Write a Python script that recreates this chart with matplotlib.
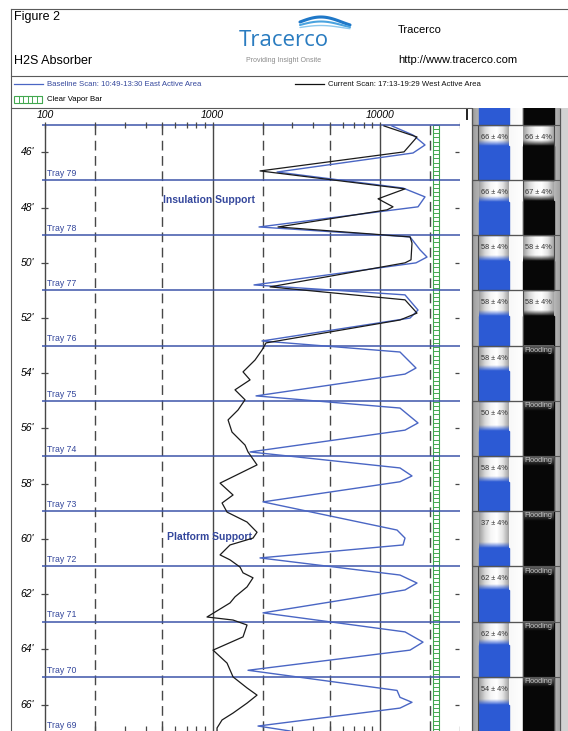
import numpy as np
import matplotlib.pyplot as plt
from matplotlib.patches import Rectangle
from matplotlib.colors import LinearSegmentedColormap, to_rgb

plt.rcParams['font.family'] = ['Liberation Sans', 'DejaVu Sans']

W, H = 568, 731

# baseline scan (blue): depth in ft, count rate
baseline_depth = [45.04, 45.37, 45.73, 46.02, 46.71, 47.29, 47.61, 47.97, 48.70,
                  49.06, 49.53, 49.79, 50.00, 50.80, 51.16, 51.71, 52.00, 52.83,
                  53.23, 53.81, 54.03, 54.82, 55.26, 55.80, 56.06, 56.85, 57.43,
                  57.72, 57.93, 58.66, 59.68, 59.97, 60.22, 60.69, 61.31, 61.60,
                  61.85, 62.68, 63.37, 63.74, 64.03, 64.76, 65.49, 65.74, 65.92,
                  66.13, 66.78, 66.96]
baseline_counts = [11790, 15740, 18560, 15740, 2428, 13720, 18560, 16860, 1895,
                   15110, 17340, 19080, 16400, 1769, 14100, 16860, 15110, 1974,
                   13160, 16400, 14100, 1819, 13160, 16860, 14100, 1675, 13160,
                   15520, 13160, 2002, 12640, 14100, 13720, 1921, 13160, 16630,
                   14100, 2002, 14100, 18060, 15110, 1629, 12640, 13160, 15520,
                   13160, 1869, 2901]

# current scan (black)
current_depth = [45.04, 45.44, 45.98, 46.67, 47.32, 47.68, 47.97, 48.08, 48.70,
                 49.06, 49.28, 49.89, 50.00, 50.87, 51.34, 51.82, 52.07, 52.90,
                 53.16, 53.52, 53.95, 54.24, 54.60, 54.96, 55.33, 55.69, 56.13,
                 56.60, 56.85, 57.32, 57.98, 58.41, 58.70, 59.03, 59.39, 59.76,
                 59.97, 60.22, 60.58, 60.76, 61.02, 61.23, 61.41, 61.74, 62.10,
                 62.32, 62.83, 62.94, 63.12, 63.55, 64.03, 64.50, 65.00, 65.40,
                 65.66, 65.95, 66.31, 66.56, 66.85, 66.96]
current_counts = [10560, 16630, 13910, 1921, 14100, 9730, 11960, 11010, 2460,
                  15110, 15520, 15310, 14100, 2205, 14100, 16630, 13160, 2087,
                  1974, 1794, 1521, 1675, 1362, 1563, 1420, 1238, 1307,
                  1563, 1629, 1844, 1109, 1326, 1140, 1221, 1607, 1844,
                  1745, 1272, 1109, 1272, 1459, 1521, 1745, 1607, 1362,
                  1272, 927, 1326, 1607, 1521, 1007, 1221, 1326, 1607,
                  1844, 1607, 1326, 1140, 1064, 1064]

tray_depths = [45, 47, 49, 51, 53, 55, 57, 59, 61, 63, 65, 67]
tray_names = ['', 'Tray 79', 'Tray 78', 'Tray 77', 'Tray 76', 'Tray 75', 'Tray 74',
              'Tray 73', 'Tray 72', 'Tray 71', 'Tray 70', 'Tray 69']
depth_ticks = [46, 48, 50, 52, 54, 56, 58, 60, 62, 64, 66]
major_x = [100, 1000, 10000]
dashed_x = [200, 500, 2000, 5000, 20000]
minor_x = [300, 400, 600, 700, 800, 900, 3000, 4000, 6000, 7000, 8000, 9000, 30000]
vapor_bar = (20800, 22600)

# liquid level of each tray section (None = flooding)
section_tops = [43, 45, 47, 49, 51, 53, 55, 57, 59, 61, 63, 65]
east_pct = [66, 66, 66, 58, 58, 58, 50, 58, 37, 62, 62, 54]
west_pct = [66, 66, 67, 58, 58, None, None, None, None, None, None, None]

BLUE = '#4a66c4'
TRAY = '#3d55aa'
TEXT_BLUE = '#34479c'
GRID = '#474747'
GREEN = '#43a850'

fig = plt.figure(figsize=(W / 100, H / 100), dpi=100)

# page layer in pixel units: header, legend, frame
bg = fig.add_axes([0, 0, 1, 1])
bg.set_xlim(0, W)
bg.set_ylim(H, 0)
bg.axis('off')
frame = dict(color='#5a5a5a', lw=0.8)
bg.plot([11, W], [9, 9], **frame)
bg.plot([11, W], [76, 76], **frame)
bg.plot([11, 11], [9, H], **frame)
bg.plot([11, 471], [108, 108], **frame)

bg.text(14, 17, 'Figure 2', fontsize=9, va='center')
bg.text(14, 61, 'H2S Absorber', fontsize=9, va='center')
bg.text(398, 30, 'Tracerco', fontsize=8, va='center')
bg.text(398, 60, 'http://www.tracerco.com', fontsize=8, va='center')

# logo with swoosh
bg.text(284, 41, 'Tracerco', fontsize=16, color='#2a7cc0', ha='center',
        va='center', family=['Open Sans', 'DejaVu Sans'])
sx = np.linspace(300, 350, 60)
for k, (off, lw) in enumerate([(0, 2.2), (3.0, 1.5), (5.5, 1.0)]):
    sy = 22 + off - 5 * np.sin((sx - 300) / 50 * np.pi * 1.2) * (1 - 0.3 * k)
    bg.plot(sx, sy, color=['#1f78c8', '#4aa3df', '#8cc8ee'][k], lw=lw,
            solid_capstyle='round')
bg.text(284, 61, 'Providing Insight Onsite', fontsize=5, color='#8a8a8a',
        ha='center', va='center')

# legend row
bg.plot([14, 43], [84, 84], color=BLUE, lw=0.9)
bg.text(47, 84, 'Baseline Scan: 10:49-13:30 East Active Area', color=TEXT_BLUE,
        fontsize=5.6, va='center')
bg.plot([295, 324], [84, 84], color='#111111', lw=0.9)
bg.text(328, 84, 'Current Scan: 17:13-19:29 West Active Area', color='#111111',
        fontsize=5.6, va='center')
bg.add_patch(Rectangle((14, 96), 28, 7, fill=False, ec=GREEN, lw=0.8))
for xr in np.arange(18.5, 42, 4.6):
    bg.plot([xr, xr], [96, 103], color=GREEN, lw=0.7)
bg.text(47, 99.5, 'Clear Vapor Bar', fontsize=5.6, va='center')
bg.plot([467, 467], [110, 119], color='#222222', lw=1.4)

# main scan axes
top_d, bot_d = 44.39, 66.96
ax = fig.add_axes([12 / W, 0, 448 / W, 623 / H])
ax.set_xscale('log')
ax.set_facecolor('none')
for s in ['right', 'bottom', 'left', 'top']:
    ax.spines[s].set_visible(False)
ax.set_xticks([])
ax.set_yticks([])
ax.minorticks_off()
ax.xaxis.set_minor_locator(plt.NullLocator())

for xv in major_x:
    ax.vlines(xv, 45, bot_d, color=GRID, lw=1.0, zorder=1)
for xv in dashed_x:
    ax.vlines(xv, 45, bot_d, color=GRID, lw=1.0, linestyles=(0, (7, 4)), zorder=1)

# vapour bar ladder
ax.vlines(list(vapor_bar), 45, bot_d, color=GREEN, lw=0.8, zorder=1)
ax.hlines(np.arange(45, bot_d, 0.152), vapor_bar[0], vapor_bar[1], color=GREEN,
          lw=0.7, zorder=1)

# tray lines and labels
ax.hlines(tray_depths, 96, 30030, color=TRAY, lw=1.1, zorder=2)
for d, name in zip(tray_depths, tray_names):
    if name:
        ax.text(103, d - 0.08, name, color=TEXT_BLUE, fontsize=6.3,
                va='bottom', ha='left', clip_on=True)

# tick marks along top and bottom
all_x_ticks = major_x + dashed_x[:-1] + minor_x
ax.vlines(all_x_ticks, 44.88, 45.1, color=GRID, lw=0.9, zorder=3)
ax.vlines(minor_x + dashed_x[:-1], 66.78, bot_d, color=GRID, lw=0.9, zorder=3)
for xv in major_x:
    ax.text(xv, 44.64, f'{xv}', fontsize=7.5, style='italic', ha='center',
            va='center')

# depth ticks and labels
ax.hlines(depth_ticks, 95, 104.5, color=GRID, lw=0.9)
ax.hlines(depth_ticks, 28200, 29800, color=GRID, lw=0.9)
for d in depth_ticks:
    ax.text(86, d, f"{d}'", fontsize=7.5, style='italic', ha='right',
            va='center')

ax.text(506, 47.72, 'Insulation Support', color=TEXT_BLUE, fontsize=7.5,
        fontweight='bold', va='center')
ax.text(534, 59.93, 'Platform Support', color=TEXT_BLUE, fontsize=7.5,
        fontweight='bold', va='center')

ax.plot(baseline_counts, baseline_depth, color=BLUE, lw=1.0, zorder=4)
ax.plot(current_counts, current_depth, color='#1b1b1b', lw=0.9, zorder=4)

ax.set_xlim(63.5, 30030)
ax.set_ylim(bot_d, top_d)

# tray level panel
pn = fig.add_axes([470 / W, 0, 98 / W, 623 / H])
pn.axis('off')
silver = LinearSegmentedColormap.from_list(
    'silver', ['#9e9e9e', '#d8d8d8', '#f7f7f7', '#ffffff', '#e4e4e4', '#a4a4a4'])
grad = np.linspace(0, 1, 64)[None, :]
pn.imshow(grad, cmap=silver, extent=(2, 90, bot_d, top_d), aspect='auto', zorder=0)
pn.add_patch(Rectangle((90, top_d), 8, bot_d - top_d, color='#d2d2d2', zorder=0))
cols = [(9, 39), (53, 84)]
for x0, x1 in cols:
    pn.imshow(grad, cmap=silver, extent=(x0, x1, bot_d, top_d), aspect='auto',
              zorder=1)


def fade(x0, x1, d_top, d_bot, rgb, a0, a1, z):
    n = 32
    img = np.zeros((n, 1, 4))
    img[:, 0, :3] = to_rgb(rgb)
    img[:, 0, 3] = np.linspace(a0, a1, n)
    pn.imshow(img, extent=(x0, x1, d_bot, d_top), aspect='auto', zorder=z)


for i, t in enumerate(section_tops):
    b = t + 2
    show_label = t + 0.3 > top_d
    for (x0, x1), pct, col in [(cols[0], east_pct[i], '#2c5ad4'),
                                (cols[1], west_pct[i], '#070707')]:
        xc = (x0 + x1) / 2
        if pct is None:
            pn.add_patch(Rectangle((x0, t), x1 - x0, 2, color=col, zorder=2))
            fade(x0, x1, t, t + 0.35, '#6a6a6a', 1, 0, 3)
            if show_label:
                pn.text(xc, t + 0.17, 'Flooding', fontsize=5.3, color='#c4c4c4',
                        ha='center', va='center', clip_on=True, zorder=5)
        else:
            level = b - pct / 100 * 1.85
            pn.add_patch(Rectangle((x0, level), x1 - x0, b - level, color=col,
                                   zorder=2))
            fade(x0, x1, level - 0.2, level, col, 0, 1, 3)
            if show_label:
                pn.text(xc, t + 0.45, f'{pct} ± 4%', fontsize=5.3,
                        color='#333333', ha='center', va='center',
                        clip_on=True, zorder=5)
    # staggered cell outline
    if i % 2 == 0:
        pn.add_patch(Rectangle((2, t), 51, 2, fill=False, ec='#4a4a4a', lw=0.8,
                               zorder=4))
    else:
        pn.add_patch(Rectangle((8, t), 76, 2, fill=False, ec='#4a4a4a', lw=0.8,
                               zorder=4))
pn.vlines([2, 90], top_d, bot_d, color='#555555', lw=0.9, zorder=4)
pn.hlines(section_tops, 2, 90, color='#555555', lw=0.8, zorder=4)
pn.set_xlim(0, 98)
pn.set_ylim(bot_d, top_d)

fig.savefig('out.png', dpi=100)
